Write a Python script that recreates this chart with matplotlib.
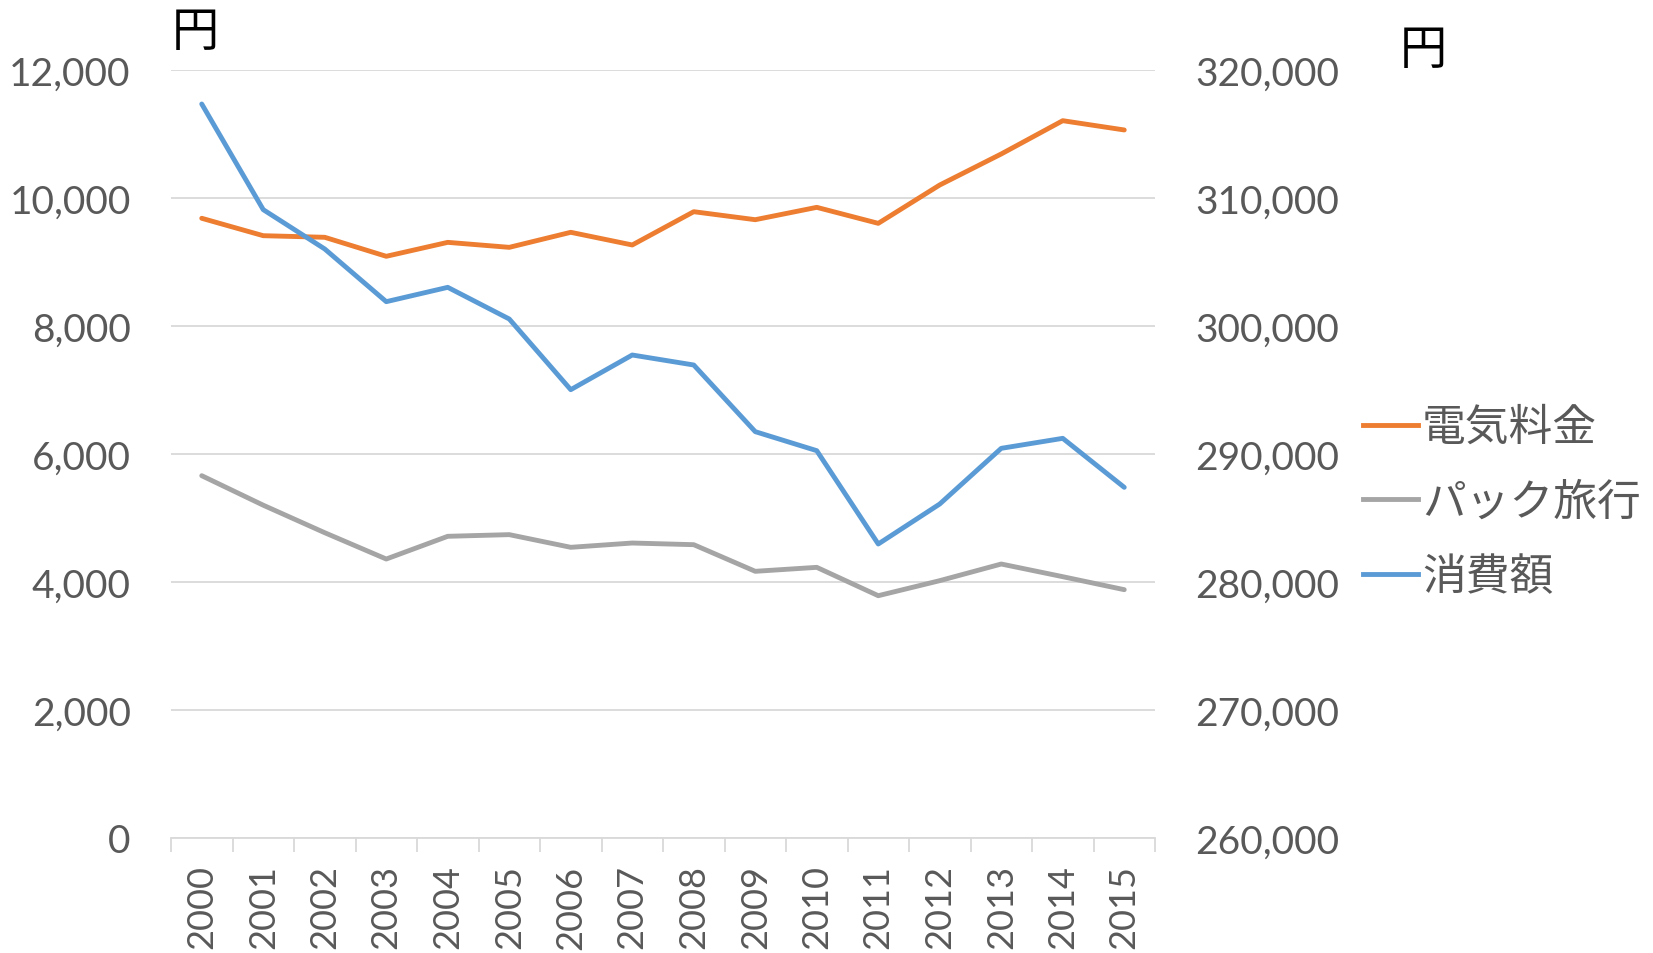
import matplotlib.pyplot as plt
from matplotlib.ticker import StrMethodFormatter, FixedLocator
from matplotlib.lines import Line2D

# ----------------
# DATA
# ----------------
years = ["2000", "2001", "2002", "2003", "2004", "2005", "2006", "2007",
         "2008", "2009", "2010", "2011", "2012", "2013", "2014", "2015"]

denki = [9683, 9411, 9386, 9089, 9307, 9229, 9464, 9266,
         9786, 9661, 9854, 9604, 10203, 10688, 11208, 11063]

pack = [5661, 5200, 4770, 4359, 4714, 4740, 4542, 4609,
        4583, 4167, 4229, 3786, 4021, 4281, 4083, 3880]

shohi = [317344, 309089, 306016, 301901, 303021, 300547, 295026, 297734,
         296953, 291745, 290260, 282969, 286094, 290443, 291224, 287396]

labels = ["電気料金", "パック旅行", "消費額"]
colors = ["#ED7D31", "#A5A5A5", "#5B9BD5"]

left_ticks = [0, 2000, 4000, 6000, 8000, 10000, 12000]
right_ticks = [260000, 270000, 280000, 290000, 300000, 310000, 320000]

# ----------------
# STYLE
# ----------------
TICK_FONT = "Lato"
CJK_FONT = ["Noto Sans CJK JP", "DejaVu Sans"]
TICK_COLOR = "#595959"
GRID_COLOR = "#D9D9D9"
LW = 3.5

fig = plt.figure(figsize=(16.53, 9.54), dpi=100)
ax = fig.add_axes([171 / 1653, 1 - 839 / 954, (1155 - 171) / 1653, (839 - 71) / 954])
ax2 = ax.twinx()

x = list(range(len(years)))

ax.plot(x, denki, color=colors[0], lw=LW, solid_capstyle="round", solid_joinstyle="round")
ax.plot(x, pack, color=colors[1], lw=LW, solid_capstyle="round", solid_joinstyle="round")
ax2.plot(x, shohi, color=colors[2], lw=LW, solid_capstyle="round", solid_joinstyle="round")

ax.set_xlim(-0.5, len(years) - 0.5)
ax.set_ylim(0, 12000)
ax2.set_ylim(260000, 320000)

ax.set_yticks(left_ticks)
ax2.set_yticks(right_ticks)
ax.yaxis.set_major_formatter(StrMethodFormatter("{x:,.0f}"))
ax2.yaxis.set_major_formatter(StrMethodFormatter("{x:,.0f}"))

ax.set_xticks(x)
ax.set_xticklabels(years, rotation=90)
ax.xaxis.set_minor_locator(FixedLocator([i - 0.5 for i in range(len(years) + 1)]))

ax.grid(axis="y", color=GRID_COLOR, lw=1.3)
ax.set_axisbelow(True)

for a in (ax, ax2):
    for s in a.spines.values():
        s.set_visible(False)
ax.spines["bottom"].set_visible(True)
ax.spines["bottom"].set_color(GRID_COLOR)
ax.spines["bottom"].set_linewidth(1.3)

ax.tick_params(axis="y", length=0, pad=29, labelsize=28, labelcolor=TICK_COLOR)
ax2.tick_params(axis="y", length=0, pad=29, labelsize=28, labelcolor=TICK_COLOR)
ax.tick_params(axis="x", which="major", length=0, pad=19, labelsize=26, labelcolor=TICK_COLOR)
ax.tick_params(axis="x", which="minor", length=10, width=1.3, color=GRID_COLOR)

for lab in ax.get_yticklabels() + ax2.get_yticklabels() + ax.get_xticklabels():
    lab.set_fontfamily(TICK_FONT)

# unit labels
fig.text(172 / 1653, 1 - 8 / 954, "円", family=CJK_FONT, fontsize=34, color="black",
         ha="left", va="top")
fig.text(1400 / 1653, 1 - 27 / 954, "円", family=CJK_FONT, fontsize=34, color="black",
         ha="left", va="top")

handles = [Line2D([], [], color=c, lw=LW) for c in colors]
fig.legend(handles, labels, loc="upper left", bbox_to_anchor=(1363 / 1653, 1 - 405 / 954),
           frameon=False, borderpad=0, borderaxespad=0, handlelength=1.25,
           handletextpad=0.1, labelspacing=0.65, labelcolor=TICK_COLOR,
           prop={"family": CJK_FONT, "size": 31.5})

fig.savefig("out.png", dpi=100)
